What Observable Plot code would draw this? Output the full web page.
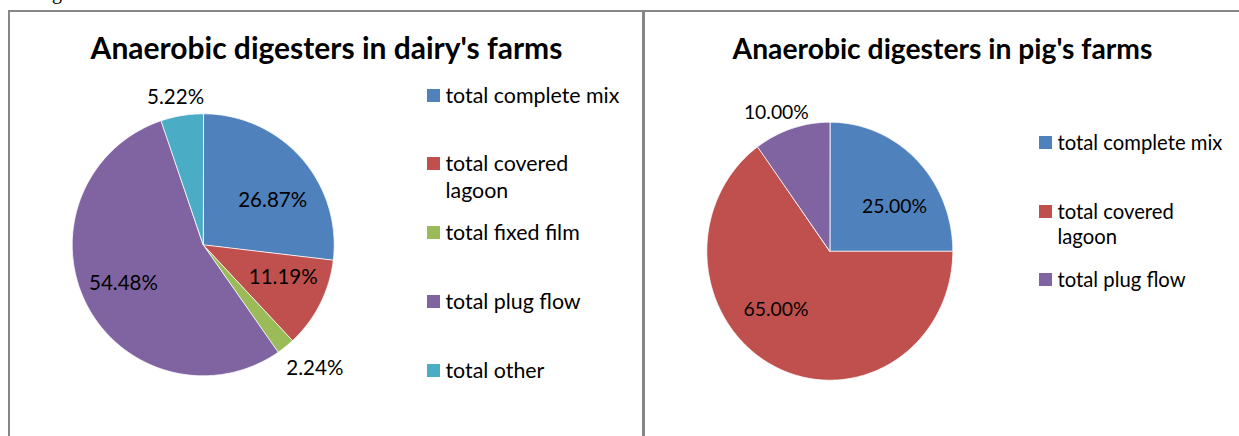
<!DOCTYPE html>
<html>
<head>
<meta charset="utf-8">
<script src="https://cdn.jsdelivr.net/npm/d3@7"></script>
<script src="https://cdn.jsdelivr.net/npm/@observablehq/plot@0.6"></script>
<style>
  html, body { margin: 0; padding: 0; background: #fff; }
  #root { position: relative; width: 1239px; height: 436px; overflow: hidden; background: #fff; font-family: Lato, "Noto Sans", sans-serif; color: #000; }
  .rule { position: absolute; background: #878787; }
  .panel { position: absolute; }
  .item { position: absolute; display: flex; align-items: flex-start; }
  .sw { flex: none; display: inline-block; }
  .tx { display: inline-block; white-space: normal; }
  .caption { position: absolute; font-family: "Liberation Serif", serif; font-size: 20px; line-height: 1; white-space: nowrap; }
</style>
</head>
<body>
<div id="root"></div>
<script>
// ---------------- data ----------------
const dairyCategories = ["total complete mix", "total covered lagoon", "total fixed film", "total plug flow", "total other"];
const dairyValues = [26.87, 11.19, 2.24, 54.48, 5.22];
const pigCategories = ["total complete mix", "total covered lagoon", "total plug flow"];
const pigValues = [25.00, 65.00, 10.00];
const titles = ["Anaerobic digesters in dairy's farms", "Anaerobic digesters in pig's farms"];
const captionText = "Figure";

// ---------------- styles / layout ----------------
const categoryColors = {
  "total complete mix": "#4F81BD",
  "total covered lagoon": "#C0504D",
  "total fixed film": "#9BBB59",
  "total plug flow": "#8064A2",
  "total other": "#4BACC6"
};
// Excel "best fit" label placement: [radius factor, angular nudge in degrees]
const dairyLabelPlacement = [[0.63, 9], [0.66, -4.7], [1.27, -3.2], [0.676, 1], [1.145, -1.2]];
const pigLabelPlacement = [[0.627, 12], [0.63, 17], [1.16, -4]];

const panels = [
  { categories: dairyCategories, values: dairyValues, placement: dairyLabelPlacement, title: titles[0],
    left: 10, top: 12, width: 632, height: 424,
    cx: 192.7, cy: 232.3, rx: 131, ry: 131,
    titleWidth: 472, titleBaseline: 46,
    labelRef: "26.87%", labelWidth: 69,
    legendLeft: 427, legendTop: 81.5, legendStep: 68.75, legendLine: 27, legendRefWidth: 174 },
  { categories: pigCategories, values: pigValues, placement: pigLabelPlacement, title: titles[1],
    left: 645, top: 12, width: 594, height: 424,
    cx: 184.3, cy: 238.7, rx: 123, ry: 129,
    titleWidth: 420, titleBaseline: 46,
    labelRef: "25.00%", labelWidth: 65,
    legendLeft: 1039, legendTop: 130.2, legendStep: 68.5, legendLine: 25.5, legendRefWidth: 165 }
];

// ---------------- helpers ----------------
const ctx = document.createElement("canvas").getContext("2d");
function textWidth(text, weight, size, family) {
  ctx.font = `${weight} ${size}px ${family}`;
  return ctx.measureText(text).width;
}
function fitSize(text, weight, target, family = "Lato") {
  return 100 * target / textWidth(text, weight, 100, family);
}
function slicesFor(categories, values) {
  const total = d3.sum(values);
  let acc = 0;
  return categories.map((c, i) => {
    const a0 = acc / total * 2 * Math.PI;
    acc += values[i];
    const a1 = acc / total * 2 * Math.PI;
    const n = Math.max(2, Math.ceil((a1 - a0) / (Math.PI / 360)));
    const pts = [{x: 0, y: 0}];
    for (let k = 0; k <= n; k++) {
      const a = a0 + (a1 - a0) * k / n;
      pts.push({x: Math.sin(a), y: Math.cos(a)});
    }
    return {category: c, value: values[i], a0, a1, pts};
  });
}

const root = document.getElementById("root");

// frame rules
function rule(l, t, w, h) {
  const d = document.createElement("div");
  d.className = "rule";
  Object.assign(d.style, {left: l + "px", top: t + "px", width: w + "px", height: h + "px"});
  root.appendChild(d);
}
rule(8, 10, 1231, 2);
rule(8, 10, 2, 426);
rule(642, 10, 3, 426);

// clipped caption from the page above
{
  const c = document.createElement("div");
  c.className = "caption";
  c.textContent = captionText;
  const fiw = textWidth("Fi", 400, 20, '"Liberation Serif"');
  c.style.left = (52 - fiw) + "px";
  c.style.top = "-17.8px";
  root.appendChild(c);
}

for (const p of panels) {
  const slices = slicesFor(p.categories, p.values);
  const labelSize = fitSize(p.labelRef, 400, p.labelWidth);
  const titleSize = fitSize(p.title, 700, p.titleWidth);
  const labels = slices.map((s, i) => {
    const [rf, nudge] = p.placement[i];
    const a = (s.a0 + s.a1) / 2 + nudge * Math.PI / 180;
    return {x: rf * Math.sin(a), y: rf * Math.cos(a), text: s.value.toFixed(2) + "%"};
  });

  const chart = Plot.plot({
    width: p.width,
    height: p.height,
    margin: 0,
    axis: null,
    x: {domain: [-1, 1], range: [p.cx - p.rx, p.cx + p.rx]},
    y: {domain: [-1, 1], range: [p.cy + p.ry, p.cy - p.ry]},
    style: {fontFamily: "Lato, 'Noto Sans', sans-serif", background: "transparent", overflow: "visible", color: "#000"},
    marks: [
      ...slices.map(s => Plot.line(s.pts, {
        x: "x", y: "y", curve: "linear-closed",
        fill: categoryColors[s.category], stroke: "#fff", strokeWidth: 0.8
      })),
      Plot.text(labels, {x: "x", y: "y", text: "text", fontSize: labelSize, fill: "#000"}),
      Plot.text([p.title], {
        frameAnchor: "top", lineAnchor: "bottom", dy: p.titleBaseline,
        text: d => d, fontSize: titleSize, fontWeight: "bold", fill: "#000"
      })
    ]
  });
  const wrap = document.createElement("div");
  wrap.className = "panel";
  Object.assign(wrap.style, {left: p.left + "px", top: p.top + "px", width: p.width + "px", height: p.height + "px"});
  wrap.appendChild(chart);
  root.appendChild(wrap);

  // legend
  const legendSize = fitSize("total complete mix", 400, p.legendRefWidth);
  p.categories.forEach((c, i) => {
    const item = document.createElement("div");
    item.className = "item";
    Object.assign(item.style, {
      left: p.legendLeft + "px",
      top: (p.legendTop + i * p.legendStep) + "px",
      lineHeight: p.legendLine + "px",
      fontSize: legendSize + "px"
    });
    const sw = document.createElement("span");
    sw.className = "sw";
    Object.assign(sw.style, {
      width: "13px", height: "13px", background: categoryColors[c],
      marginTop: ((p.legendLine - 13) / 2) + "px", marginRight: "5.5px"
    });
    const tx = document.createElement("span");
    tx.className = "tx";
    tx.style.width = (p.legendRefWidth + 4) + "px";
    tx.textContent = c;
    item.appendChild(sw);
    item.appendChild(tx);
    root.appendChild(item);
  });
}
</script>
</body>
</html>
